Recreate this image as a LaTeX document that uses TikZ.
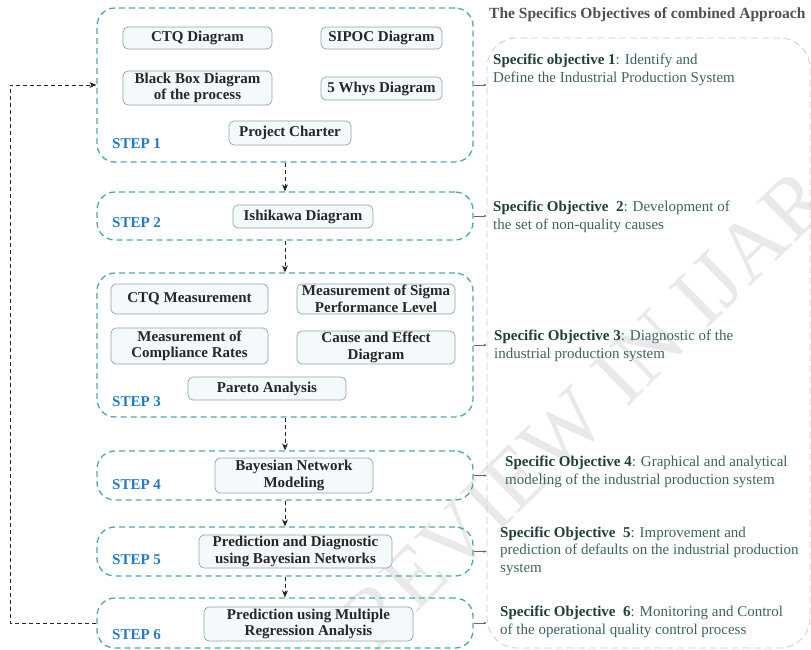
\documentclass[tikz,border=0pt]{standalone}
\usepackage{fontspec}
\setmainfont{Liberation Serif}
\usetikzlibrary{arrows.meta}
\definecolor{tealdash}{HTML}{4BA9AE}
\definecolor{stepblue}{HTML}{2379C4}
\definecolor{boxfill}{HTML}{F4FAFC}
\definecolor{boxdraw}{HTML}{8FA3A7}
\definecolor{objbold}{HTML}{1F3F3C}
\definecolor{objtext}{HTML}{3B6461}
\definecolor{titlegray}{HTML}{505050}
\tikzset{
  stepbox/.style={draw=tealdash, dash pattern=on 6pt off 4pt, line width=1.3pt,
    rounded corners=18pt, minimum width=376pt, inner sep=0pt},
  innerbox/.style={draw=boxdraw, fill=boxfill, rounded corners=5pt, line width=0.7pt,
    font=\bfseries\fontsize{15}{16.5}\selectfont, align=center, inner sep=0pt, text=black!85},
  steplabel/.style={text=stepblue, font=\bfseries\fontsize{15}{16}\selectfont, anchor=west, inner sep=0pt},
  objnote/.style={anchor=west, align=left, inner sep=0pt, text=objtext,
    font=\fontsize{15}{17.5}\selectfont},
  conn/.style={draw=black!85, dash pattern=on 4pt off 3pt, line width=0.8pt,
    -{Stealth[length=7pt,width=6pt]}},
  smallarrow/.style={draw=black!60, line width=0.5pt, -{Stealth[length=3pt,width=2.5pt]}},
}
\newcommand{\ob}[1]{\textbf{\textcolor{objbold}{#1}}}
\begin{document}
\begin{tikzpicture}[x=1pt,y=-1pt]
\useasboundingbox (0,0) rectangle (811,649);
% watermark
\node[rotate=44.4, text=gray!17, font=\fontsize{85}{85}\selectfont, inner sep=0pt] (wm) at (585,410) {REVIEW IN IJAR};

% objectives frame
\node[draw=gray!40, dash pattern=on 7pt off 4pt, line width=0.8pt, rounded corners=30pt,
  minimum width=323pt, minimum height=610pt, inner sep=0pt] (obj) at (648.5,343) {};
\node[anchor=west, inner sep=0pt, text=titlegray, font=\bfseries\fontsize{15.5}{17}\selectfont] (title) at (489,15) {The Specifics Objectives of combined Approach};

% step frames
\node[stepbox, minimum height=154pt] (s1) at (285,85) {};
\node[stepbox, minimum height=48pt] (s2) at (285,216) {};
\node[stepbox, minimum height=144pt] (s3) at (285,345) {};
\node[stepbox, minimum height=49pt] (s4) at (285,475.5) {};
\node[stepbox, minimum height=49pt] (s5) at (285,551.5) {};
\node[stepbox, minimum height=50pt] (s6) at (285,623) {};

% step labels
\node[steplabel] (l1) at (112,144) {STEP 1};
\node[steplabel] (l2) at (112,223) {STEP 2};
\node[steplabel] (l3) at (112,402) {STEP 3};
\node[steplabel] (l4) at (112,485) {STEP 4};
\node[steplabel] (l5) at (112,560) {STEP 5};
\node[steplabel] (l6) at (112,635) {STEP 6};

% step 1 content
\node[innerbox, minimum width=149pt, minimum height=22pt] (ctq) at (197.5,38) {CTQ Diagram};
\node[innerbox, minimum width=121pt, minimum height=22pt] (sipoc) at (381.5,38) {SIPOC Diagram};
\node[innerbox, minimum width=149pt, minimum height=34pt] (bbox) at (197.5,88) {Black Box Diagram\\of the process};
\node[innerbox, minimum width=121pt, minimum height=23pt] (whys) at (381.5,88.5) {5 Whys Diagram};
\node[innerbox, minimum width=122pt, minimum height=24pt] (charter) at (290,133) {Project Charter};
% step 2
\node[innerbox, minimum width=140pt, minimum height=23pt] (ishi) at (303,216.5) {Ishikawa Diagram};
% step 3
\node[innerbox, minimum width=157pt, minimum height=30pt] (ctqm) at (189.5,299) {CTQ Measurement};
\node[innerbox, minimum width=158pt, minimum height=30pt] (sigma) at (376,299) {Measurement of Sigma\\Performance Level};
\node[innerbox, minimum width=157pt, minimum height=36pt] (compl) at (189.5,346) {Measurement of\\Compliance Rates};
\node[innerbox, minimum width=158pt, minimum height=33pt] (cause) at (376,347.5) {Cause and Effect\\Diagram};
\node[innerbox, minimum width=158pt, minimum height=23pt] (pareto) at (267,388.5) {Pareto Analysis};
% step 4-6
\node[innerbox, minimum width=158pt, minimum height=35pt] (bayes) at (294,475.5) {Bayesian Network\\Modeling};
\node[innerbox, minimum width=193pt, minimum height=33pt] (pred) at (295.5,551.5) {Prediction and Diagnostic\\using Bayesian Networks};
\node[innerbox, minimum width=209pt, minimum height=34pt] (regr) at (308.5,624) {Prediction using Multiple\\Regression Analysis};

% objective texts
\node[objnote] (o1) at (493,70) {\ob{Specific objective 1}: Identify and\\Define the Industrial Production System};
\node[objnote] (o2) at (493,217) {\ob{Specific Objective\ \ 2}: Development of\\the set of non-quality causes};
\node[objnote] (o3) at (494,346) {\ob{Specific Objective 3}: Diagnostic of the\\industrial production system};
\node[objnote] (o4) at (505,472) {\ob{Specific Objective 4}: Graphical and analytical\\modeling of the industrial production system};
\node[objnote] (o5) at (500,551) {\ob{Specific Objective\ \ 5}: Improvement and\\prediction of defaults on the industrial production\\system};
\node[objnote] (o6) at (500,622) {\ob{Specific Objective\ \ 6}: Monitoring and Control\\of the operational quality control process};

% flow connectors
\draw[conn] (s1.south) -- (s2.north);
\draw[conn] (s2.south) -- (s3.north);
\draw[conn] (s3.south) -- (s4.north);
\draw[conn] (s4.south) -- (s5.north);
\draw[conn] (s5.south) -- (s6.north);
\coordinate (fb) at (10,623);
\draw[conn] (s6.west) -- (fb) |- (s1.west);

% to objectives
\foreach \s in {s1,s2,s3,s4,s5,s6}
  \draw[smallarrow] (\s.east) -- (\s.east -| obj.west);
\end{tikzpicture}
\end{document}
